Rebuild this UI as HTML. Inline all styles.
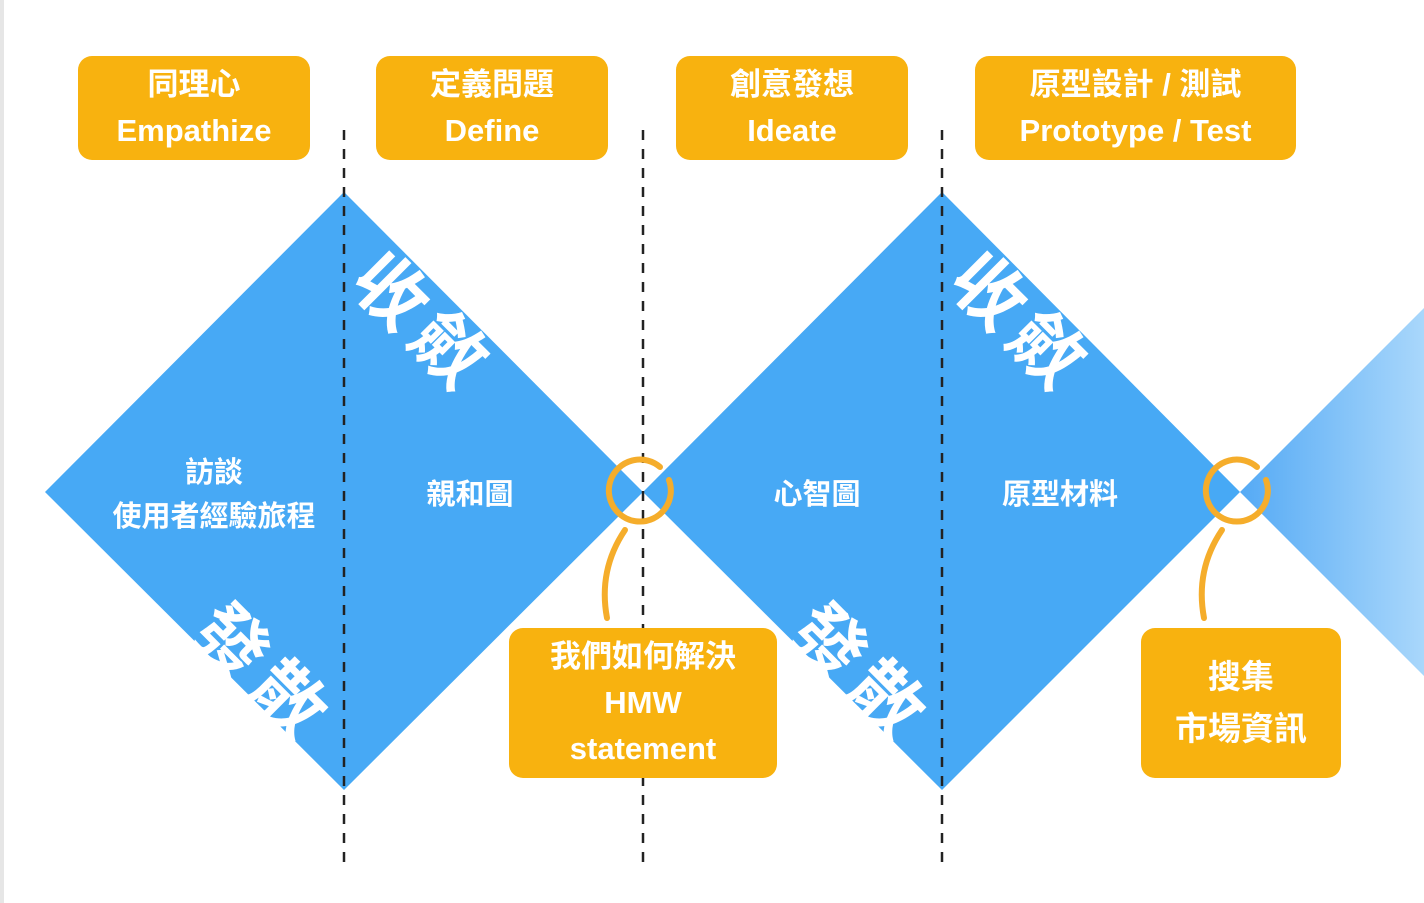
<!DOCTYPE html>
<html><head><meta charset="utf-8"><style>
html,body{margin:0;padding:0;background:#fff;}
body{width:1424px;height:903px;position:relative;overflow:hidden;font-family:"Liberation Sans","Noto Sans CJK TC",sans-serif;}
.box{position:absolute;background:#f8b20f;border-radius:14px;color:#fff;font-weight:bold;text-align:center;display:flex;flex-direction:column;justify-content:center;align-items:center;}
.rt{position:absolute;color:#fff;font-weight:bold;font-size:72px;transform:rotate(45deg);letter-spacing:10px;white-space:nowrap;line-height:1;font-family:"Noto Sans CJK TC",sans-serif;}
.lbl{position:absolute;color:#fff;font-weight:bold;font-size:29px;text-align:center;line-height:44px;white-space:nowrap;font-family:"Noto Sans CJK TC",sans-serif;}
</style></head><body>
<div style="position:absolute;left:0;top:0;width:4px;height:903px;background:#e6e6e6"></div>
<svg width="1424" height="903" style="position:absolute;left:0;top:0">
<defs><linearGradient id="g" x1="1240" y1="0" x2="1424" y2="0" gradientUnits="userSpaceOnUse"><stop offset="0" stop-color="#55aaf5"/><stop offset="1" stop-color="#a9d7fb"/></linearGradient></defs>
<polygon points="45,492 344,192 643,492 344,790" fill="#47a9f5"/>
<polygon points="643,492 942,192 1240,492 942,790" fill="#47a9f5"/>
<polygon points="1240,492 1424,308 1424,676" fill="url(#g)"/>
<g stroke="#222" stroke-width="2.5" stroke-dasharray="10,9">
<line x1="344" y1="130" x2="344" y2="862"/>
<line x1="643" y1="130" x2="643" y2="862"/>
<line x1="942" y1="130" x2="942" y2="862"/>
</g>
<g fill="none" stroke="#f5ad2b" stroke-width="6" stroke-linecap="round">
<path d="M660,467 A31,31 0 1 0 669,480"/>
<path d="M1257,467 A31,31 0 1 0 1266,480"/>
<path d="M625,530 Q598,570 607,618"/>
<path d="M1222,530 Q1195,570 1204,618"/>
</g>
</svg>
<div class="box" style="left:78px;top:56px;width:232px;height:104px;font-size:31px;line-height:46px"><div>同理心</div><div>Empathize</div></div>
<div class="box" style="left:376px;top:56px;width:232px;height:104px;font-size:31px;line-height:46px"><div>定義問題</div><div>Define</div></div>
<div class="box" style="left:676px;top:56px;width:232px;height:104px;font-size:31px;line-height:46px"><div>創意發想</div><div>Ideate</div></div>
<div class="box" style="left:975px;top:56px;width:321px;height:104px;font-size:31px;line-height:46px"><div>原型設計 / 測試</div><div>Prototype / Test</div></div>
<div class="box" style="left:509px;top:628px;width:268px;height:150px;font-size:31px;line-height:46px"><div>我們如何解決</div><div>HMW</div><div>statement</div></div>
<div class="box" style="left:1141px;top:628px;width:200px;height:150px;font-size:33px;line-height:52px"><div>搜集</div><div>市場資訊</div></div>
<div class="rt" style="left:345px;top:284px">收斂</div>
<div class="rt" style="left:185px;top:634px">發散</div>
<div class="rt" style="left:943px;top:284px">收斂</div>
<div class="rt" style="left:783px;top:634px">發散</div>
<div class="lbl" style="left:84px;top:448px;width:260px">訪談<br>使用者經驗旅程</div>
<div class="lbl" style="left:400px;top:470px;width:140px">親和圖</div>
<div class="lbl" style="left:747px;top:470px;width:140px">心智圖</div>
<div class="lbl" style="left:980px;top:470px;width:160px">原型材料</div>
</body></html>
